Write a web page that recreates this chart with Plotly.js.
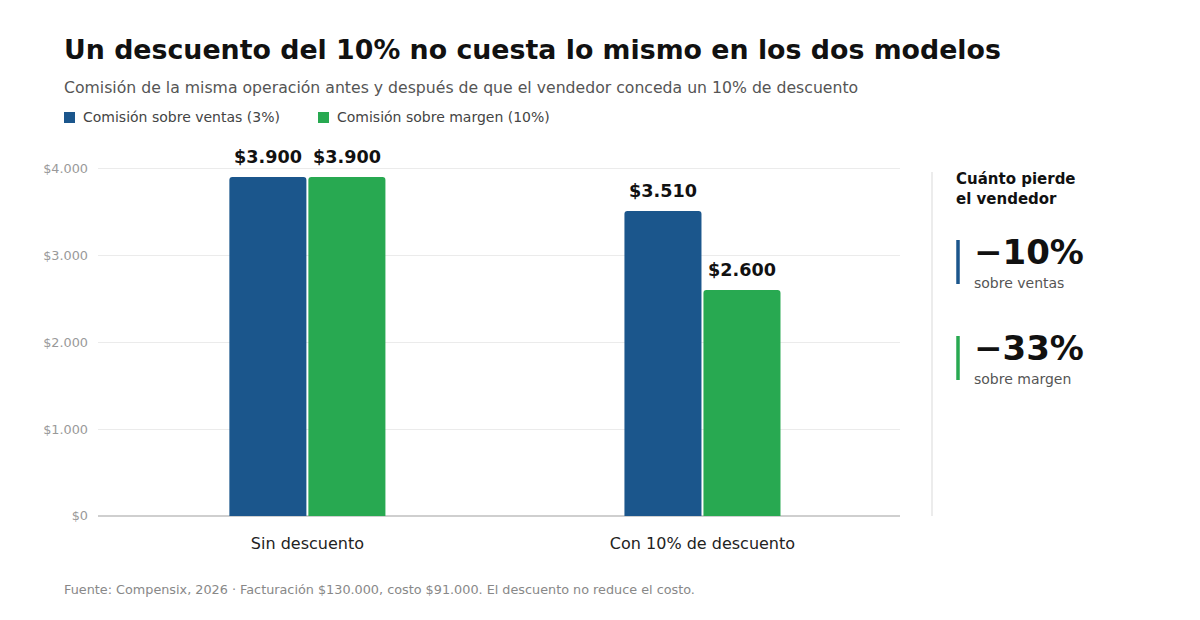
<!DOCTYPE html>
<html>
<head>
<meta charset="utf-8">
<script src="https://cdn.plot.ly/plotly-3.0.1.min.js"></script>
<style>
  html, body { margin: 0; padding: 0; background: #fff; }
  #chart { width: 1200px; height: 620px; }
</style>
</head>
<body>
<div id="chart"></div>
<script>
// datos
const categorias = ['Sin descuento', 'Con 10% de descuento'];
const comisionVentas = [3900, 3510];
const comisionMargen = [3900, 2600];
const nombres = ['Comisión sobre ventas (3%)', 'Comisión sobre margen (10%)'];
const ejeY = [0, 1000, 2000, 3000, 4000];
const perdidas = ['−10%', '−33%'];
const perdidasTexto = ['sobre ventas', 'sobre margen'];

const AZUL = '#1b568c';
const VERDE = '#28a951';
const FONT = 'DejaVu Sans, sans-serif';

// plot area in pixels
const L = 98, R = 900, T = 151, B = 516;
const px = x => (x - L) / (R - L);
const py = y => (B - y) / (B - T);

const fmt = v => '$' + v.toLocaleString('de-DE');

const ventas = {
  x: categorias, y: comisionVentas, type: 'bar', name: nombres[0],
  marker: { color: AZUL }, hoverinfo: 'none', showlegend: false
};
const margen = {
  x: categorias, y: comisionMargen, type: 'bar', name: nombres[1],
  marker: { color: VERDE }, hoverinfo: 'none', showlegend: false
};

// value labels above each bar
const labels = [];
[comisionVentas, comisionMargen].forEach((serie, s) => {
  serie.forEach((v, i) => {
    labels.push({
      x: i + (s === 0 ? -0.1 : 0.1), y: v, xref: 'x', yref: 'y',
      text: '<b>' + fmt(v) + '</b>', showarrow: false,
      yanchor: 'bottom', yshift: 8,
      font: { family: FONT, size: 17.6, color: '#111' }
    });
  });
});

// small legend row under the subtitle
const legendX = [64, 318];
const legendColors = [AZUL, VERDE];
const legendText = nombres.map((n, i) => ({
  x: px(legendX[i] + 17), y: py(117), xref: 'paper', yref: 'paper', xanchor: 'left', yanchor: 'middle',
  showarrow: false, text: n, font: { family: FONT, size: 14, color: '#444' }
}));
const legendBoxes = legendX.map((x0, i) => ({
  type: 'rect', xref: 'paper', yref: 'paper',
  x0: px(x0), x1: px(x0 + 11), y0: py(123), y1: py(112),
  fillcolor: legendColors[i], line: { width: 0 }
}));

const panel = [
  { x: px(954), y: py(168), xref: 'paper', yref: 'paper', xanchor: 'left', yanchor: 'top',
    align: 'left', showarrow: false, text: '<b>Cuánto pierde<br>el vendedor</b>',
    font: { family: FONT, size: 15, color: '#111' } },
  { x: px(972), y: py(252), xref: 'paper', yref: 'paper', xanchor: 'left', yanchor: 'middle',
    showarrow: false, text: '<b>' + perdidas[0] + '</b>',
    font: { family: FONT, size: 34, color: '#111' } },
  { x: px(972), y: py(283), xref: 'paper', yref: 'paper', xanchor: 'left', yanchor: 'middle',
    showarrow: false, text: perdidasTexto[0],
    font: { family: FONT, size: 14, color: '#555' } },
  { x: px(972), y: py(348), xref: 'paper', yref: 'paper', xanchor: 'left', yanchor: 'middle',
    showarrow: false, text: '<b>' + perdidas[1] + '</b>',
    font: { family: FONT, size: 34, color: '#111' } },
  { x: px(972), y: py(379), xref: 'paper', yref: 'paper', xanchor: 'left', yanchor: 'middle',
    showarrow: false, text: perdidasTexto[1],
    font: { family: FONT, size: 14, color: '#555' } },
  // subtitle
  { x: px(62), y: py(87), xref: 'paper', yref: 'paper', xanchor: 'left', yanchor: 'middle',
    showarrow: false, text: 'Comisión de la misma operación antes y después de que el vendedor conceda un 10% de descuento',
    font: { family: FONT, size: 15.7, color: '#555' } },
  // footer
  { x: px(62), y: py(589), xref: 'paper', yref: 'paper', xanchor: 'left', yanchor: 'middle',
    showarrow: false, text: 'Fuente: Compensix, 2026 · Facturación $130.000, costo $91.000. El descuento no reduce el costo.',
    font: { family: FONT, size: 12.8, color: '#888' } }
];

const shapes = [
  { type: 'line', xref: 'paper', yref: 'paper', x0: px(932), x1: px(932), y0: py(172), y1: py(516),
    line: { color: '#ececec', width: 2 } },
  { type: 'line', xref: 'paper', yref: 'paper', x0: px(958), x1: px(958), y0: py(240), y1: py(284),
    line: { color: AZUL, width: 3.5 } },
  { type: 'line', xref: 'paper', yref: 'paper', x0: px(958), x1: px(958), y0: py(336), y1: py(380),
    line: { color: VERDE, width: 3.5 } }
].concat(legendBoxes);

const layout = {
  width: 1200, height: 620,
  margin: { l: L, r: 1200 - R, t: T, b: 620 - B, pad: 0 },
  paper_bgcolor: '#fff', plot_bgcolor: '#fff',
  font: { family: FONT, color: '#222' },
  title: {
    text: '<b>Un descuento del 10% no cuesta lo mismo en los dos modelos</b>',
    xref: 'container', yref: 'container', x: 64 / 1200, xanchor: 'left',
    y: 1 - 50 / 620, yanchor: 'middle',
    font: { family: FONT, size: 26.8, color: '#111' }
  },
  showlegend: false,
  barmode: 'group', bargap: 0.6, bargroupgap: 0.025, barcornerradius: 3,
  xaxis: {
    type: 'category', range: [-0.53, 1.5], showgrid: false, zeroline: false,
    showline: false, ticks: '', tickfont: { family: FONT, size: 16, color: '#222' },
    ticklabelstandoff: 16, fixedrange: true
  },
  yaxis: {
    range: [0, 4200], tickmode: 'array', tickvals: ejeY, ticktext: ejeY.map(fmt),
    showgrid: true, gridcolor: '#ebebeb', gridwidth: 1,
    zeroline: true, zerolinecolor: '#cfcfcf', zerolinewidth: 2,
    showline: false, ticks: '', tickfont: { family: FONT, size: 12.8, color: '#999' },
    ticklabelstandoff: 9, fixedrange: true
  },
  annotations: labels.concat(legendText, panel),
  shapes: shapes
};

Plotly.newPlot('chart', [ventas, margen], layout, { displayModeBar: false, staticPlot: true });
</script>
</body>
</html>
